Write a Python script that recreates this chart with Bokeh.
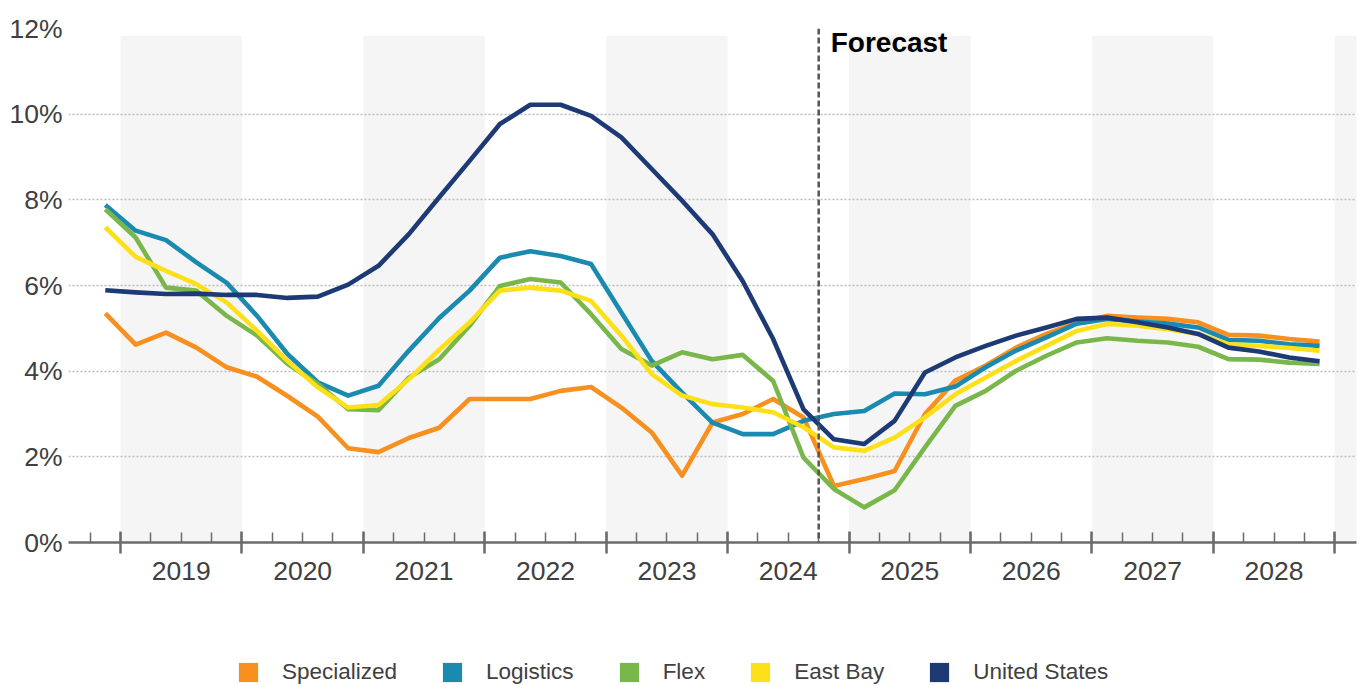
from bokeh.plotting import figure
from bokeh.layouts import column
from bokeh.models import (Range1d, FixedTicker, LinearAxis, Span, Label,
                          Legend, LegendItem, ColumnDataSource)
from bokeh.embed import file_html
from bokeh.resources import INLINE

# Quarterly periods, 2018 Q4 through 2028 Q4
quarters = [f"{y} Q{q}" for y in range(2018, 2029) for q in range(1, 5)][3:]

# Vacancy rates (%) by segment
specialized = [5.35, 4.62, 4.90, 4.55, 4.09, 3.87, 3.42, 2.94, 2.20, 2.11,
               2.44, 2.68, 3.35, 3.35, 3.35, 3.54, 3.63, 3.15, 2.57, 1.56,
               2.80, 3.00, 3.35, 2.92, 1.32, 1.48, 1.67, 3.00, 3.78, 4.13,
               4.55, 4.87, 5.14, 5.29, 5.25, 5.22, 5.14, 4.85, 4.83, 4.75,
               4.69]
logistics = [7.88, 7.28, 7.06, 6.54, 6.06, 5.29, 4.40, 3.74, 3.43, 3.66,
             4.48, 5.24, 5.88, 6.65, 6.80, 6.69, 6.50, 5.37, 4.24, 3.50,
             2.80, 2.53, 2.53, 2.84, 3.00, 3.07, 3.48, 3.46, 3.64, 4.09,
             4.48, 4.79, 5.11, 5.22, 5.16, 5.11, 5.02, 4.73, 4.71, 4.63,
             4.59]
flex = [7.78, 7.12, 5.95, 5.88, 5.29, 4.83, 4.17, 3.70, 3.11, 3.09,
        3.85, 4.28, 5.06, 5.99, 6.15, 6.07, 5.33, 4.52, 4.13, 4.44,
        4.28, 4.38, 3.77, 1.98, 1.25, 0.82, 1.22, 2.22, 3.19, 3.54,
        4.01, 4.36, 4.67, 4.77, 4.71, 4.67, 4.57, 4.28, 4.27, 4.20,
        4.17]
east_bay = [7.36, 6.67, 6.34, 6.03, 5.60, 4.94, 4.24, 3.62, 3.15, 3.21,
            3.81, 4.50, 5.14, 5.88, 5.95, 5.88, 5.64, 4.83, 3.93, 3.43,
            3.23, 3.15, 3.04, 2.69, 2.22, 2.14, 2.45, 2.92, 3.46, 3.85,
            4.24, 4.59, 4.94, 5.10, 5.06, 4.98, 4.87, 4.63, 4.59, 4.54,
            4.48]
united_states = [5.89, 5.84, 5.80, 5.81, 5.78, 5.78, 5.71, 5.74, 6.02, 6.46,
                 7.20, 8.06, 8.91, 9.77, 10.22, 10.22, 9.96, 9.46, 8.72, 7.98,
                 7.20, 6.10, 4.75, 3.11, 2.41, 2.30, 2.84, 3.97, 4.32, 4.59,
                 4.83, 5.02, 5.22, 5.25, 5.14, 5.02, 4.87, 4.55, 4.46, 4.32,
                 4.23]

series_names = ["Specialized", "Logistics", "Flex", "East Bay", "United States"]
series_values = [specialized, logistics, flex, east_bay, united_states]
series_colors = ["#F7901E", "#1B8AB0", "#7AB74A", "#FDE01A", "#1D3A75"]

years = list(range(2019, 2029))
shaded_years = [2019, 2021, 2023, 2025, 2027, 2029]
y_ticks = [0, 2, 4, 6, 8, 10, 12]
y_tick_labels = [f"{t}%" for t in y_ticks]
forecast_start = "2024 Q4"
forecast_text = "Forecast"

# each quarter is plotted at its midpoint, in fractional years
x = [int(s[:4]) + (int(s[-1]) - 0.5) / 4 for s in quarters]

FONT = "Liberation Sans"
TEXT = "#404040"
AXIS = "#6b6b6b"

p = figure(frame_width=1288, frame_height=514,
           min_border_left=68, min_border_right=5,
           min_border_top=28, min_border_bottom=103,
           x_range=Range1d(2018.5718, 2029.179), y_range=Range1d(0, 12),
           x_axis_location=None, output_backend="svg", toolbar_location=None,
           background_fill_color="white", border_fill_color="white")
p.outline_line_color = None

# alternating year shading
band_src = ColumnDataSource(dict(left=shaded_years,
                                 right=[y + 1 for y in shaded_years]))
bands = p.quad(left="left", right="right", bottom=0, top=11.83, source=band_src,
               fill_color="#f5f5f5", line_color=None)
bands.level = "image"

# y axis and dotted grid
p.yaxis.ticker = FixedTicker(ticks=y_ticks)
p.yaxis.major_label_overrides = dict(zip(y_ticks, y_tick_labels))
p.yaxis.axis_line_color = None
p.yaxis.major_tick_line_color = None
p.yaxis.minor_tick_line_color = None
p.yaxis.major_tick_out = 0
p.yaxis.major_tick_in = 0
p.yaxis.minor_tick_out = 0
p.yaxis.major_label_standoff = 6
p.yaxis.major_label_text_font = FONT
p.yaxis.major_label_text_font_size = "26.5px"
p.yaxis.major_label_text_color = TEXT
p.ygrid.ticker = FixedTicker(ticks=y_ticks[1:])
p.ygrid.grid_line_color = "#bcbcbc"
p.ygrid.grid_line_dash = "2 2"
p.ygrid.grid_line_width = 1.3
p.xgrid.visible = False

# x axis: year boundary ticks with quarter minor ticks
quarter_edges = [2018.75 + 0.25 * k for k in range(42)]
tick_axis = LinearAxis(ticker=FixedTicker(ticks=years + [2029],
                                          minor_ticks=quarter_edges))
tick_axis.axis_line_color = AXIS
tick_axis.axis_line_width = 2.5
tick_axis.major_tick_line_color = AXIS
tick_axis.major_tick_line_width = 2.5
tick_axis.major_tick_in = 11
tick_axis.major_tick_out = 11
tick_axis.minor_tick_line_color = AXIS
tick_axis.minor_tick_line_width = 1.5
tick_axis.minor_tick_in = 10
tick_axis.minor_tick_out = 0
tick_axis.major_label_text_font_size = "1px"
tick_axis.major_label_text_alpha = 0
tick_axis.major_label_standoff = 0
p.add_layout(tick_axis, "below")

# year labels centred in each band
year_mid = [y + 0.5 for y in years]
year_axis = LinearAxis(ticker=FixedTicker(ticks=year_mid, minor_ticks=[]))
year_axis.major_label_overrides = {m: str(y) for m, y in zip(year_mid, years)}
year_axis.axis_line_color = None
year_axis.major_tick_line_color = None
year_axis.minor_tick_line_color = None
year_axis.major_tick_out = 0
year_axis.major_tick_in = 0
year_axis.major_label_standoff = 8
year_axis.major_label_text_font = FONT
year_axis.major_label_text_font_size = "26.5px"
year_axis.major_label_text_color = TEXT
p.add_layout(year_axis, "below")

# series lines
for name, vals, color in zip(series_names, series_values, series_colors):
    p.line(x, vals, line_color=color, line_width=4.6, line_join="round")

# forecast divider
fy, fq = forecast_start.split(" Q")
fx = int(fy) + (int(fq) - 1) / 4
p.add_layout(Span(location=fx, dimension="height", line_color="#555555",
                  line_width=2.5, line_dash="6 3"))
p.add_layout(Label(x=fx, y=12, x_offset=12, y_offset=2, text=forecast_text,
                   text_font=FONT, text_font_style="bold", text_font_size="28px",
                   text_baseline="top", text_color="black"))

# legend strip beneath the chart: one swatch row per series (no geometry,
# only the colour is used by the legend)
lf = figure(width=1361, height=40, min_border=0, x_range=Range1d(0, 1),
            y_range=Range1d(0, 1), output_backend="svg", toolbar_location=None,
            x_axis_location=None, y_axis_location=None,
            background_fill_color="white", border_fill_color="white")
lf.outline_line_color = None
lf.grid.visible = False
nan = float("nan")
sw_src = ColumnDataSource(dict(left=[nan] * len(series_names),
                               right=[nan] * len(series_names),
                               top=[nan] * len(series_names),
                               bottom=[nan] * len(series_names),
                               color=series_colors))
sw = lf.quad(left="left", right="right", top="top", bottom="bottom",
             fill_color="color", line_color=None, source=sw_src)
items = [LegendItem(label=name, renderers=[sw], index=i)
         for i, name in enumerate(series_names)]
legend = Legend(items=items, orientation="horizontal", location=(168, 0),
                glyph_width=24, glyph_height=24, label_standoff=22, spacing=43,
                padding=0, margin=0, border_line_color=None,
                background_fill_alpha=0, label_text_font=FONT,
                label_text_font_size="22.5px", label_text_color=TEXT)
lf.add_layout(legend)

open("out.html", "w").write(file_html(column(p, lf, spacing=0), INLINE))
